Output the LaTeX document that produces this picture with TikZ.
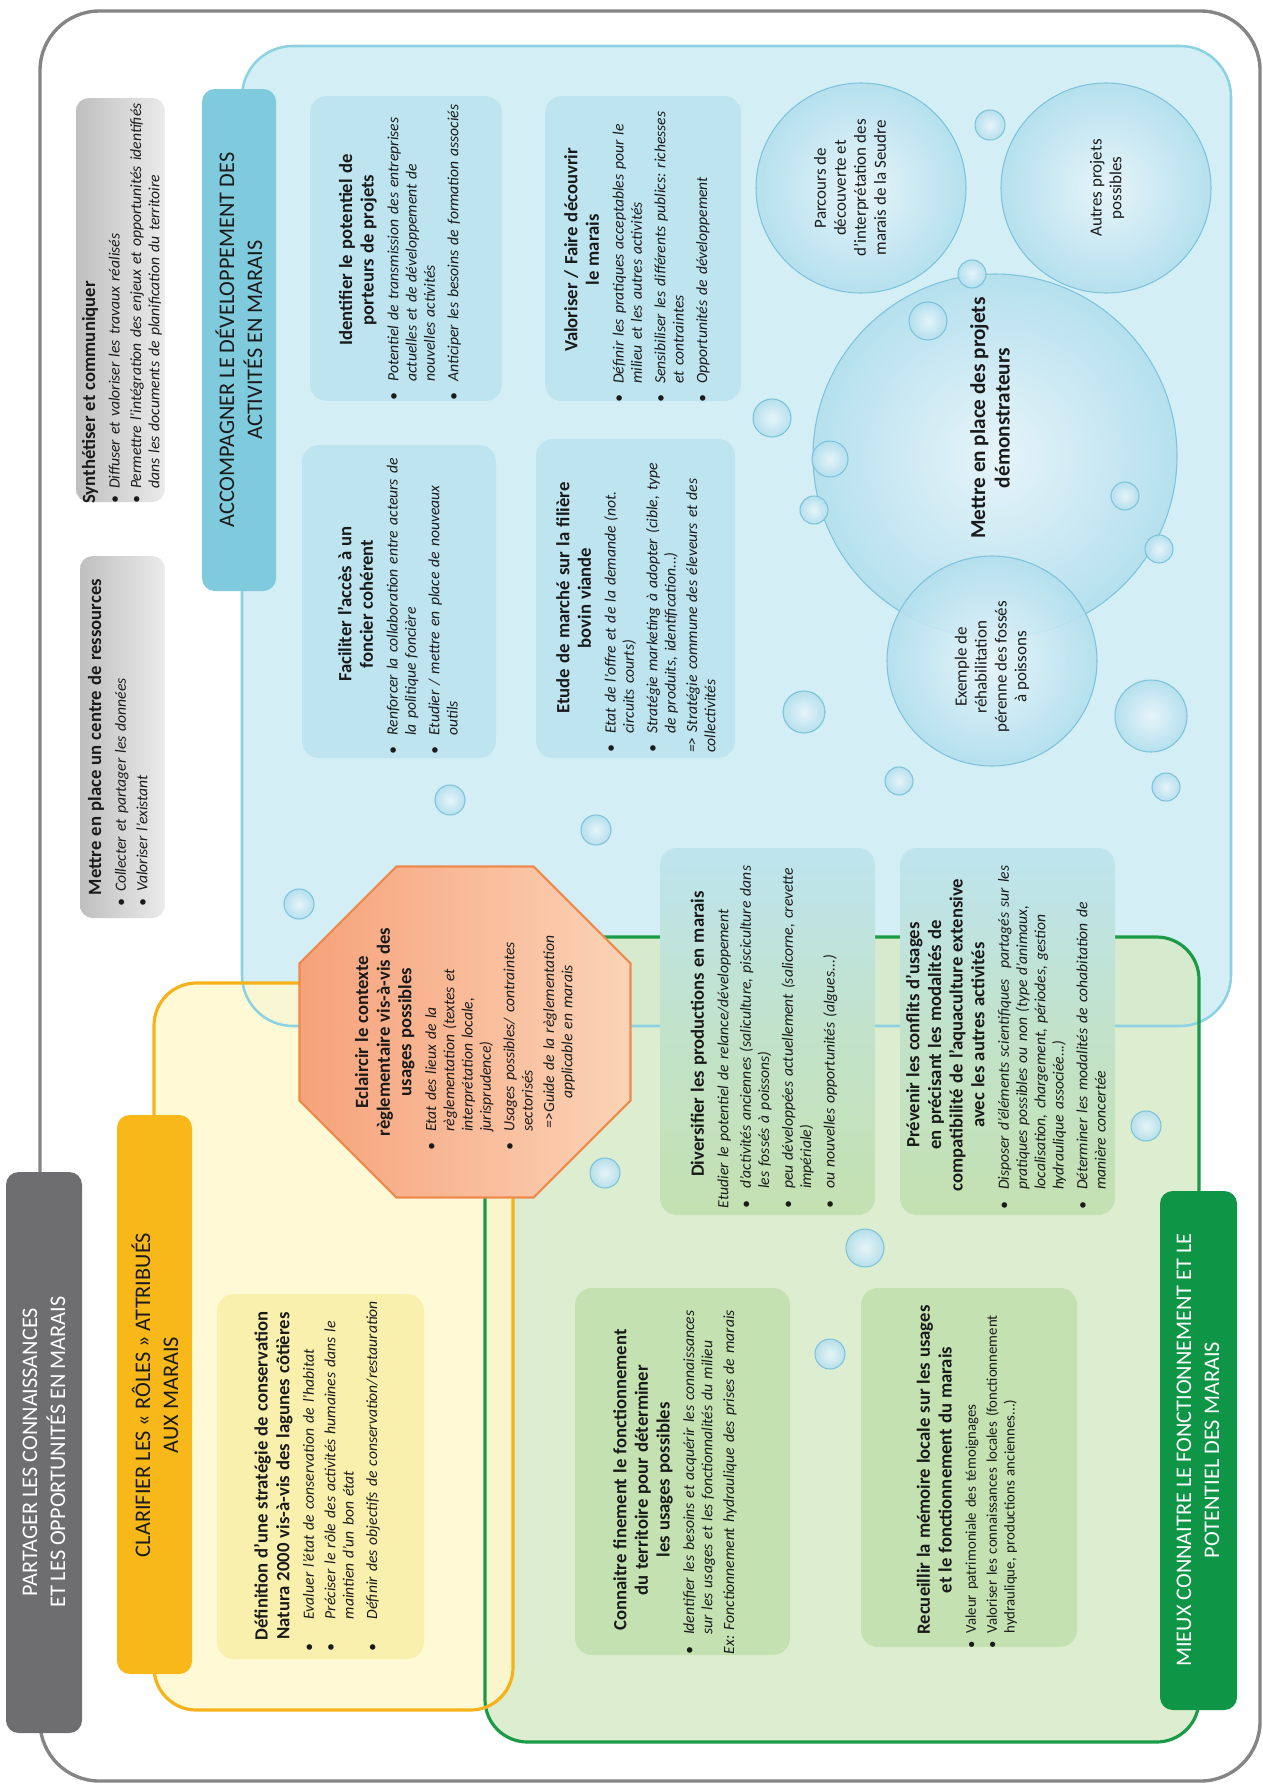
\documentclass[tikz,border=0pt]{standalone}
\usepackage{fontspec}
\setmainfont{Carlito}

\definecolor{framegray}{HTML}{858585}
\definecolor{bargray}{HTML}{6E6E70}
\definecolor{yelline}{HTML}{F7B21B}
\definecolor{yelfill}{HTML}{FFF8CE}
\definecolor{yelbox}{HTML}{FAF0AE}
\definecolor{yelbanner}{HTML}{F9B81A}
\definecolor{blueline}{HTML}{8CD2E2}
\definecolor{bluefill}{HTML}{D4EEF5}
\definecolor{bluebox}{HTML}{BEE4EF}
\definecolor{bluebanner}{HTML}{7FCBDD}
\definecolor{greenline}{HTML}{1B9A48}
\definecolor{greenfill}{HTML}{D7EBC8}
\definecolor{greenbox}{HTML}{C4E1B1}
\definecolor{greenbanner}{HTML}{0E9646}
\definecolor{octline}{HTML}{EE8A4E}
\definecolor{octdark}{HTML}{F6A27A}
\definecolor{octlight}{HTML}{FBD3B6}
\definecolor{bubedge}{HTML}{7CC3DB}
\definecolor{bubfill}{HTML}{B3DFEE}
\definecolor{txt}{HTML}{1A1A1A}

\frenchspacing
\hyphenpenalty=10000
\exhyphenpenalty=10000
\newlength\bulind
\setlength\bulind{9pt}
\newcommand\ttl[1]{{\centering\upshape\bfseries\fontsize{8.8}{10.2}\selectfont #1\par}\vspace{3pt}}
\newcommand\ttll[1]{{\raggedright\upshape\bfseries\fontsize{8.8}{10.2}\selectfont #1\par}\vspace{3pt}}
\newcommand\itm[1]{\noindent\makebox[\bulind][l]{\textbullet}%
  \parbox[t]{\dimexpr\hsize-\bulind\relax}{\raggedright\strut #1\strut}\par\vspace{1.5pt}}
\newcommand\txt[1]{\noindent #1\par\vspace{2pt}}

\tikzset{
  lbl/.style={rotate=90, align=left, inner sep=0pt, text=txt, font=\fontsize{7.35}{8.6}\selectfont\itshape},
  banner/.style={rotate=90, align=center, inner sep=0pt, text=txt, font=\fontsize{10.5}{13.2}\selectfont},
  bubtext/.style={rotate=90, align=center, inner sep=0pt, text=txt, font=\fontsize{8}{9.4}\selectfont},
  bubble/.style={draw=bubedge, line width=0.5pt, inner color=white!70!bubfill, outer color=bubfill, fill opacity=0.9},
  graybox/.style={rounded corners=6pt, left color=black!25, right color=black!8},
  bbox/.style={rounded corners=8pt, fill=bluebox},
  gbox/.style={rounded corners=8pt, top color=bluebox, bottom color=greenbox, middle color=greenbox!60!bluebox},
}

\begin{document}
\begin{tikzpicture}[x=0.4712pt, y=-0.4712pt]
\useasboundingbox (0,0) rectangle (1263,1787);
% frame
\draw[framegray, line width=1.6pt, rounded corners=28pt] (40,11) rectangle (1260,1781);
% regions
\fill[bluefill, rounded corners=24pt] (242,46) rectangle (1231,1026);
\fill[greenfill, fill opacity=0.85, rounded corners=20pt] (485,937) rectangle (1199,1742);
\fill[yelfill, fill opacity=0.85, rounded corners=20pt] (154,983) rectangle (513,1710);
\draw[blueline, line width=1.2pt, rounded corners=24pt] (242,46) rectangle (1231,1026);
\draw[greenline, line width=1.5pt, rounded corners=20pt] (485,937) rectangle (1199,1742);
\draw[yelline, line width=1.5pt, rounded corners=20pt] (154,983) rectangle (513,1710);
% banners
\fill[bargray, rounded corners=6pt] (6,1172) rectangle (82,1733);
\fill[yelbanner, rounded corners=6pt] (117,1115) rectangle (192,1674);
\fill[bluebanner, rounded corners=6pt] (202,89) rectangle (276,591);
\fill[greenbanner, rounded corners=6pt] (1160,1191) rectangle (1237,1710);
% boxes
\shade[graybox] (76,98) rectangle (165,502);
\shade[graybox] (80,556) rectangle (165,918);
\fill[yelbox, rounded corners=8pt] (217,1294) rectangle (424,1659);
\fill[bbox] (310,96) rectangle (502,401);
\fill[bbox] (302,445) rectangle (496,758);
\fill[bbox] (545,96) rectangle (741,401);
\fill[bbox] (536,439) rectangle (735,758);
\shade[gbox] (660,848) rectangle (875,1215);
\shade[gbox] (900,848) rectangle (1115,1215);
\fill[greenbox, rounded corners=8pt] (575,1288) rectangle (790,1655);
\fill[greenbox, rounded corners=8pt] (861,1288) rectangle (1077,1647);
% octagon
\shadedraw[draw=octline, line width=1pt, left color=octdark, right color=octlight]
  (396.4,866.5) -- (533.6,866.5) -- (630.5,963.4) -- (630.5,1100.6) -- (533.6,1197.5)
  -- (396.4,1197.5) -- (299.5,1100.6) -- (299.5,963.4) -- cycle;
% bubbles
\shadedraw[bubble] (995,456) circle [radius=182];
\shadedraw[bubble] (861,188) circle [radius=105];
\shadedraw[bubble] (1106,188) circle [radius=105];
\shadedraw[bubble] (992,661) circle [radius=105];
\foreach \bx/\by/\br in {990/125/15, 772/418/19, 830/459/18, 928/321/19, 972/274/14,
  814/510/14, 1125/496/14, 1159/549/14, 1151/716/36, 804/712/21, 899/781/14, 1166/787/14,
  450/800/15, 596/830/15, 299/904/15, 605/1173/15, 865/1248/19, 830/1354/15, 1146/1126/15}
  \shadedraw[bubble] (\bx,\by) circle [radius=\br];

% labels
\node[banner, text=white] (partager) at (44,1452) {PARTAGER LES CONNAISSANCES\\ET LES OPPORTUNITÉS EN MARAIS};
\node[banner] (clarifier) at (155,1395) {CLARIFIER LES « RÔLES » ATTRIBUÉS\\AUX MARAIS};
\node[banner] (accompagner) at (239,340) {ACCOMPAGNER LE DÉVELOPPEMENT DES\\ACTIVITÉS EN MARAIS};
\node[banner, text=white] (mieux) at (1198,1450) {MIEUX CONNAITRE LE FONCTIONNEMENT ET LE\\POTENTIEL DES MARAIS};

\node[lbl, text width=192pt] (synth) at (125,300) {\setlength\bulind{7pt}%
  \ttll{Synthétiser et communiquer}
  \itm{Diffuser et valoriser les travaux réalisés}
  \itm{Permettre l'intégration des enjeux et opportunités identifiés\\dans les documents de planification du territoire}};
\node[lbl, text width=160pt] (centre) at (122,737) {\setlength\bulind{7pt}%
  \ttl{Mettre en place un centre de ressources}
  \itm{Collecter et partager les données}
  \itm{Valoriser l'existant}};

\node[lbl, text width=165pt] (definition) at (320,1476) {\setlength\bulind{15pt}%
  \ttl{Définition d'une stratégie de conservation\\Natura 2000 vis-à-vis des lagunes côtières}
  \itm{Evaluer l'état de conservation de l'habitat}
  \itm{Préciser le rôle des activités humaines dans le\\maintien d'un bon état}
  \itm{Définir des objectifs de conservation/restauration}};

\node[lbl, text width=112pt] (eclaircir) at (465,1032) {%
  \ttl{Eclaircir le contexte\\règlementaire vis-à-vis des\\usages possibles}
  \itm{Etat des lieux de la\\règlementation (textes et\\interprétation locale,\\jurisprudence)}
  \itm{Usages possibles/ contraintes\\sectorisés}
  {\centering =>Guide de la règlementation\\applicable en marais\par}};

\node[lbl, text width=142pt] (identifier) at (403,250) {%
  \ttl{Identifier le potentiel de\\porteurs de projets}
  \itm{Potentiel de transmission des entreprises\\actuelles et de développement de\\nouvelles activités}
  \itm{Anticiper les besoins de formation associés}};
\node[lbl, text width=142pt] (foncier) at (402,604) {%
  \ttl{Faciliter l'accès à un\\foncier cohérent}
  \itm{Renforcer la collaboration entre acteurs de\\la politique foncière}
  \itm{Etudier / mettre en place de nouveaux\\outils}};
\node[lbl, text width=144pt] (valoriser) at (640,250) {%
  \ttl{Valoriser / Faire découvrir\\le marais}
  \itm{Définir les pratiques acceptables pour le\\milieu et les autres activités}
  \itm{Sensibiliser les différents publics: richesses\\et contraintes}
  \itm{Opportunités de développement}};
\node[lbl, text width=146pt] (etude) at (638,598) {%
  \ttl{Etude de marché sur la filière\\bovin viande}
  \itm{Etat de l'offre et de la demande (not.\\circuits courts)}
  \itm{Stratégie marketing à adopter (cible, type\\de produits, identification...)}
  \txt{=> Stratégie commune des éleveurs et des\\collectivités}};

\node[lbl, text width=164pt] (diversifier) at (767,1034) {%
  \ttl{Diversifier les productions en marais}
  \txt{Etudier le potentiel de relance/développement}
  \itm{d'activités anciennes (saliculture, pisciculture dans\\les fossés à poissons)}
  \itm{peu développées actuellement (salicorne, crevette\\impériale)}
  \itm{ou nouvelles opportunités (algues...)}};
\node[lbl, text width=164pt] (prevenir) at (1010,1035) {%
  \ttl{Prévenir les conflits d'usages\\en précisant les modalités de\\compatibilité de l'aquaculture extensive\\avec les autres activités}
  \itm{Disposer d'éléments scientifiques~ partagés sur les\\pratiques possibles ou non (type d'animaux,\\localisation, chargement, périodes, gestion\\hydraulique associée...)}
  \itm{Déterminer les modalités de cohabitation de\\manière concertée}};
\node[lbl, text width=164pt] (connaitre) at (677,1480) {%
  \ttl{Connaitre finement le fonctionnement\\du territoire pour déterminer\\les usages possibles}
  \itm{Identifier les besoins et acquérir les connaissances\\sur les usages et les fonctionnalités du milieu}
  \txt{Ex: Fonctionnement hydraulique des prises de marais}};
\node[lbl, text width=168pt, font=\fontsize{7}{8.4}\selectfont] (recueillir) at (970,1470) {\setlength\bulind{7pt}%
  \ttl{Recueillir la mémoire locale sur les usages\\et le fonctionnement du marais}
  \itm{Valeur patrimoniale des témoignages}
  \itm{Valoriser les connaissances locales (fonctionnement\\hydraulique, productions anciennes...)}};

\node[bubtext, font=\fontsize{10}{11.5}\selectfont\bfseries] (demo) at (990,418) {Mettre en place des projets\\démonstrateurs};
\node[bubtext] (parcours) at (850,188) {Parcours de\\découverte et\\d'interprétation des\\marais de la Seudre};
\node[bubtext] (autres) at (1107,188) {Autres projets\\possibles};
\node[bubtext] (exemple) at (992,667) {Exemple de\\réhabilitation\\pérenne des fossés\\à poissons};
\end{tikzpicture}
\end{document}
